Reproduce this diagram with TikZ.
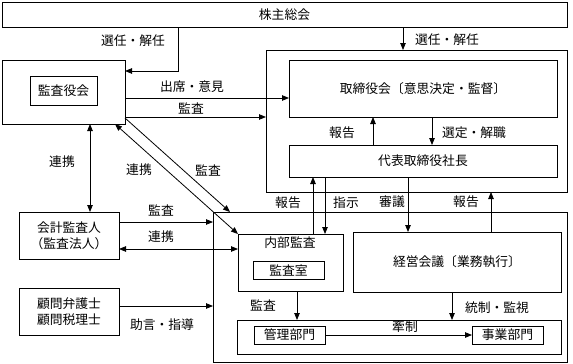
\documentclass[tikz,border=0pt]{standalone}
\usepackage{fontspec}
\newfontfamily\cjk{Noto Sans CJK JP}
\usetikzlibrary{arrows.meta}
\begin{document}
\begin{tikzpicture}[x=1pt,y=-1pt,
  box/.style={draw, line width=0.8pt, inner sep=0pt, outer sep=0pt},
  lbl/.style={inner sep=0pt},
  arr/.style={draw, line width=0.8pt, -{Triangle[length=7pt,width=5.5pt]}},
  darr/.style={draw, line width=0.8pt, {Triangle[length=7pt,width=5.5pt]}-{Triangle[length=7pt,width=5.5pt]}},
  every node/.style={font=\cjk\fontsize{12.8}{16}\selectfont}]
\useasboundingbox (0,0) rectangle (573,364);
% boxes
\node[box, minimum width=565pt, minimum height=25pt] (soukai) at (284.5,14.5) {株主総会};
\node[box, minimum width=123pt, minimum height=64pt] (kansayaku) at (63.5,92) {};
\node[box, minimum width=67pt, minimum height=29pt] (kansakai) at (63.5,90.5) {監査役会};
\node[box, minimum width=301pt, minimum height=142pt] (boardarea) at (416.5,121) {};
\node[box, minimum width=268pt, minimum height=57pt] (torikai) at (423,88.5) {取締役会〔意思決定・監督〕};
\node[box, minimum width=268pt, minimum height=32pt] (president) at (423,161) {代表取締役社長};
\node[box, minimum width=100pt, minimum height=47pt, align=center] (accountant) at (69,235.5) {会計監査人\\（監査法人）};
\node[box, minimum width=100pt, minimum height=47pt, align=center] (advisor) at (69,311.5) {顧問弁護士\\顧問税理士};
\node[box, minimum width=354pt, minimum height=150pt] (lower) at (390,287) {};
\node[box, minimum width=105pt, minimum height=57pt] (internal) at (290.5,262.5) {};
\node[lbl] (internallbl) at (290,243) {内部監査};
\node[box, minimum width=71pt, minimum height=18pt] (kansashitsu) at (288.5,270) {監査室};
\node[box, minimum width=208pt, minimum height=60pt] (keiei) at (457,262) {経営会議〔業務執行〕};
\node[box, minimum width=324pt, minimum height=34pt] (group) at (399,337) {};
\node[box, minimum width=71pt, minimum height=18pt] (kanri) at (289.5,335) {管理部門};
\node[box, minimum width=71pt, minimum height=18pt] (jigyou) at (507.5,335) {事業部門};
% helper coordinates
\coordinate (c1) at (178,71);
\coordinate (c2) at (403,0);
\coordinate (c3) at (0,98);
\coordinate (c4) at (0,117);
\coordinate (c5) at (373,0);
\coordinate (c6) at (432,0);
\coordinate (c7) at (90,0);
\coordinate (c8) at (0,118);
\coordinate (c9) at (230,0);
\coordinate (c10) at (115,0);
\coordinate (c11) at (0,222);
\coordinate (c12) at (0,249);
\coordinate (c13) at (0,306);
\coordinate (c14) at (313,0);
\coordinate (c15) at (325,0);
\coordinate (c16) at (408,0);
\coordinate (c17) at (491,0);
\coordinate (c18) at (297,0);
\coordinate (c19) at (452,0);
% connectors
\draw[arr] (soukai.south -| c1) |- (kansayaku.east |- c1);
\draw[arr] (soukai.south -| c2) -- (boardarea.north -| c2);
\draw[arr] (kansayaku.east |- c3) -- (torikai.west |- c3);
\draw[arr] (kansayaku.east |- c4) -- (boardarea.west |- c4);
\draw[arr] (president.north -| c5) -- (torikai.south -| c5);
\draw[arr] (torikai.south -| c6) -- (president.north -| c6);
\draw[darr] (kansayaku.south -| c7) -- (accountant.north -| c7);
\draw[arr] (kansayaku.east |- c8) -- (lower.north -| c9);
\draw[darr] (kansayaku.south -| c10) -- (internal.north west);
\draw[arr] (accountant.east |- c11) -- (lower.west |- c11);
\draw[darr] (accountant.east |- c12) -- (internal.west |- c12);
\draw[arr] (advisor.east |- c13) -- (lower.west |- c13);
\draw[arr] (internal.north -| c14) -- (president.south -| c14);
\draw[arr] (president.south -| c15) -- (internal.north -| c15);
\draw[arr] (president.south -| c16) -- (keiei.north -| c16);
\draw[arr] (keiei.north -| c17) -- (boardarea.south -| c17);
\draw[arr] (internal.south -| c18) -- (group.north -| c18);
\draw[arr] (keiei.south -| c19) -- (group.north -| c19);
\draw[arr] (kanri.east) -- (jigyou.west);
% labels
\node[lbl] (l1) at (133,41) {選任・解任};
\node[lbl] (l2) at (447,40) {選任・解任};
\node[lbl] (l3) at (192,87) {出席・意見};
\node[lbl] (l4) at (191,109) {監査};
\node[lbl] (l5) at (342,133) {報告};
\node[lbl] (l6) at (474,133) {選定・解職};
\node[lbl] (l7) at (62,162) {連携};
\node[lbl] (l8) at (139,170) {連携};
\node[lbl] (l9) at (208,170) {監査};
\node[lbl] (l10) at (161,210) {監査};
\node[lbl] (l11) at (161,237) {連携};
\node[lbl] (l12) at (162,325) {助言・指導};
\node[lbl] (l13) at (288,203) {報告};
\node[lbl] (l14) at (346,203) {指示};
\node[lbl] (l15) at (392,202) {審議};
\node[lbl] (l16) at (466,202) {報告};
\node[lbl] (l17) at (263,305) {監査};
\node[lbl] (l18) at (497,308) {統制・監視};
\node[lbl] (l19) at (405,327) {牽制};
\end{tikzpicture}
\end{document}
